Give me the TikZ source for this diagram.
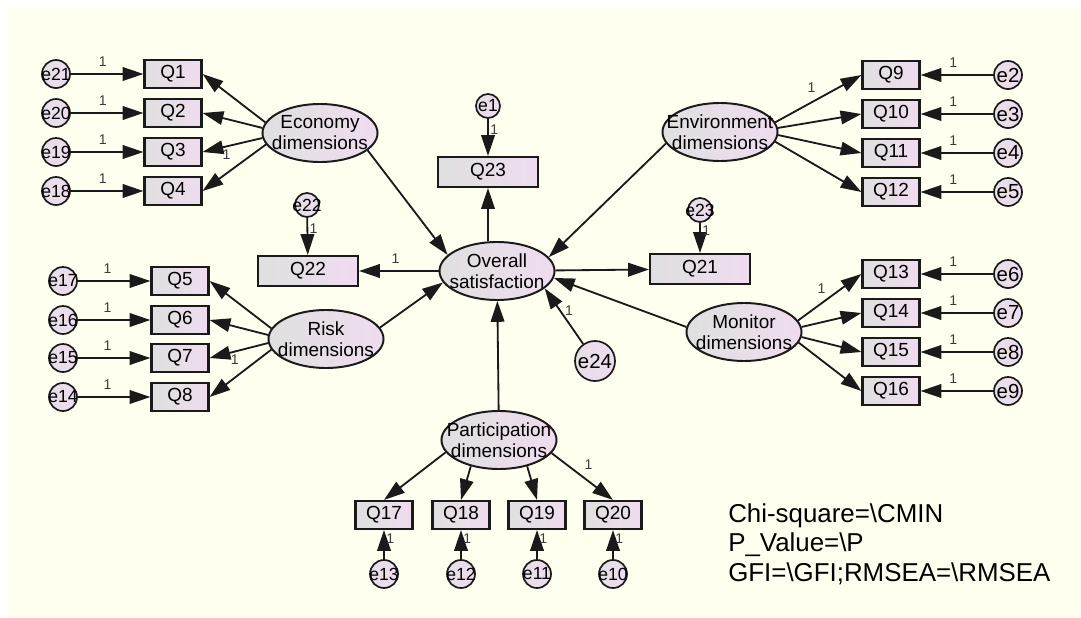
\documentclass[tikz,border=0pt]{standalone}
\usepackage{fontspec}
\setmainfont{Liberation Sans}
\usetikzlibrary{arrows.meta,shapes.geometric}
\definecolor{Paper}{HTML}{FFFFF0}
\definecolor{Ink}{HTML}{1A1A1A}
\definecolor{ShadeL}{HTML}{E0E0E0}
\definecolor{ShadeR}{HTML}{EFDCEF}
\tikzset{
  obs/.style={draw=Ink,line width=1.5pt,left color=ShadeL,right color=ShadeR,
    minimum width=1.425cm,minimum height=0.7cm,inner sep=0pt,
    font=\fontsize{13.5}{15}\selectfont},
  wide/.style={obs,minimum width=2.5cm,minimum height=0.75cm},
  latent/.style={ellipse,draw=Ink,line width=1.4pt,left color=ShadeL,right color=ShadeR,
    minimum width=2.875cm,minimum height=1.45cm,inner xsep=-12pt,inner ysep=0pt,
    align=center,font=\fontsize{13.5}{15}\selectfont},
  err/.style={circle,draw=Ink,line width=1.2pt,left color=ShadeL!60!ShadeR,right color=ShadeR,
    minimum size=0.7cm,inner sep=-4pt,font=\fontsize{12.5}{12.5}\selectfont},
  arr/.style={-{Triangle[length=0.52cm,width=0.34cm]},draw=Ink,line width=1.3pt},
  one/.style={font=\fontsize{10}{10}\selectfont,text=Ink!85,inner sep=1pt}
}
\begin{document}
\begin{tikzpicture}[x=0.025cm,y=-0.025cm]
  \useasboundingbox (0,0) rectangle (1081,618);
  \fill[Paper] (8,7) rectangle (1081,618);
  % latent variables
  \node[latent] (econ) at (320,133) {Economy\\dimensions};
  \node[latent] (risk) at (326,339) {Risk\\dimensions};
  \node[latent] (envi) at (720,132) {Environment\\dimensions};
  \node[latent] (moni) at (744,332) {Monitor\\dimensions};
  \node[latent] (part) at (499,440) {Participation\\dimensions};
  \node[latent] (overall) at (497,271) {Overall\\satisfaction};
  % economy items
  \foreach \q/\e/\y/\a in {Q1/e21/74/169,Q2/e20/113/175,Q3/e19/152/185,Q4/e18/191/192}{
    \node[obs] (\q) at (173,\y) {\q};
    \node[err] (\e) at (56,\y) {\e};
    \draw[arr] (\e) -- node[one,above=4pt,pos=0.44] (l\e) {1} (\q);
    \draw[arr] (econ.\a) -- (\q.east);
  }
  \path (econ.185) -- node[one,pos=0.6,below=1pt] (lQ3) {1} (Q3.east);
  % risk items
  \foreach \q/\e/\y/\a in {Q5/e17/281/169,Q6/e16/320/176,Q7/e15/358/184,Q8/e14/397/191}{
    \node[obs] (\q) at (180,\y) {\q};
    \node[err] (\e) at (63,\y) {\e};
    \draw[arr] (\e) -- node[one,above=4pt,pos=0.41] (l\e) {1} (\q);
    \draw[arr] (risk.\a) -- (\q.east);
  }
  \path (risk.184) -- node[one,pos=0.57,below=1pt] (lQ7) {1} (Q7.east);
  % environment items
  \foreach \q/\e/\y/\a in {Q9/e2/75/10,Q10/e3/114/4,Q11/e4/153/357,Q12/e5/192/350}{
    \node[obs] (\q) at (891,\y) {\q};
    \node[err,font=\fontsize{14.5}{14.5}\selectfont] (\e) at (1008,\y) {\e};
    \draw[arr] (\e) -- node[one,above=4pt,pos=0.55] (l\e) {1} (\q);
    \draw[arr] (envi.\a) -- (\q.west);
  }
  \path (envi.10) -- node[one,pos=0.42,above=6pt] (lQ9) {1} (Q9.west);
  % monitor items
  \foreach \q/\e/\y/\a in {Q13/e6/274/12,Q14/e7/313/5,Q15/e8/352/355,Q16/e9/391/349}{
    \node[obs] (\q) at (891,\y) {\q};
    \node[err,font=\fontsize{14.5}{14.5}\selectfont] (\e) at (1008,\y) {\e};
    \draw[arr] (\e) -- node[one,above=4pt,pos=0.55] (l\e) {1} (\q);
    \draw[arr] (moni.\a) -- (\q.west);
  }
  \path (moni.12) -- node[one,pos=0.37,above=6pt] (lQ13) {1} (Q13.west);
  % participation items
  \foreach \q/\e/\x/\a in {Q17/e13/384/193,Q18/e12/461/223,Q19/e11/537/317,Q20/e10/613/346}{
    \node[obs] (\q) at (\x,515) {\q};
    \node[err] (\e) at (\x,574) {\e};
    \draw[arr] (\e) -- node[one,right=0pt,pos=0.7] (l\e) {1} (\q);
    \draw[arr] (part.\a) -- (\q.north);
  }
  \path (part.346) -- node[one,pos=0.6,above=7pt] (lQ20) {1} (Q20.north);
  % outcome items
  \node[wide] (Q23) at (488,172) {Q23};
  \node[err,minimum size=0.6cm] (e1) at (488,106) {e1};
  \draw[arr] (e1) -- node[one,right=0pt,pos=0.3] (le1) {1} (Q23);
  \draw[arr] (overall.north -| Q23.south) -- (Q23.south);
  \node[wide] (Q22) at (308,271) {Q22};
  \node[err,minimum size=0.6cm] (e22) at (307,205) {e22};
  \draw[arr] (e22) -- node[one,right=0pt,pos=0.3] (le22) {1} (Q22);
  \draw[arr] (overall) -- node[one,above=4pt,pos=0.54] (lQ22) {1} (Q22);
  \node[wide] (Q21) at (700,269) {Q21};
  \node[err,minimum size=0.6cm] (e23) at (700,210) {e23};
  \draw[arr] (e23) -- node[one,right=0pt,pos=0.25] (le23) {1} (Q21);
  \draw[arr] (overall) -- (Q21);
  \node[err,minimum size=1cm,font=\fontsize{14.5}{14.5}\selectfont] (e24) at (595,361) {e24};
  \draw[arr] (e24) -- node[one,right=2pt,pos=0.6] (le24) {1} (overall.340);
  % structural paths
  \draw[arr] (econ.340) -- (overall.162);
  \draw[arr] (envi.192) -- (overall.15);
  \draw[arr] (risk.12) -- (overall.192);
  \draw[arr] (moni.175) -- (overall.353);
  \draw[arr] (part) -- (overall);
  \node[anchor=north west,align=left,inner sep=0pt,font=\fontsize{18.4}{21.3}\selectfont] (fit) at (728,503)
    {Chi-square=\textbackslash CMIN\\P\_Value=\textbackslash P\\GFI=\textbackslash GFI;RMSEA=\textbackslash RMSEA};
\end{tikzpicture}
\end{document}
